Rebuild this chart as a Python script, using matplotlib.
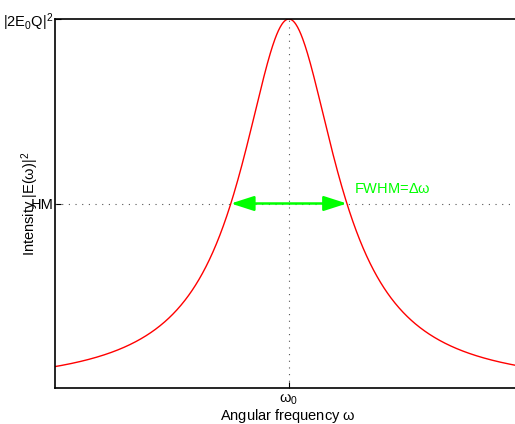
import numpy as np
import matplotlib
matplotlib.use("Agg")
import matplotlib.pyplot as plt

plt.rcParams['font.family'] = ['Liberation Sans', 'DejaVu Sans']
plt.rcParams['mathtext.fontset'] = 'custom'
plt.rcParams['mathtext.rm'] = 'Liberation Sans'
plt.rcParams['mathtext.default'] = 'regular'

# Lorentzian line shape, centred on omega_0 with unit half width
omega0 = 0.0
half_width = 1.0
omega = np.linspace(-4.1, 4.1, 821)
intensity = 1.0 / (1.0 + ((omega - omega0) / half_width) ** 2)
half_max = 0.5

y_ticks = [half_max, 1.0]
y_tick_labels = ['HM', r'|2E$_0$Q|$^2$']
x_ticks = [omega0]
x_tick_labels = [r'$\omega_0$']

fig = plt.figure(figsize=(5.15, 4.24), dpi=100)
# axes run a little past the right edge of the figure
ax = fig.add_axes([55 / 515, 36 / 424, 466 / 515, 369 / 424])

ax.plot(omega, intensity, color='red', lw=1)
ax.axvline(omega0, color='#555555', lw=0.8, ls=(0, (1, 5)))
ax.axhline(half_max, color='#555555', lw=0.8, ls=(0, (1, 5)))

ax.annotate('', xy=(omega0 + half_width, half_max), xytext=(omega0 - half_width, half_max),
            arrowprops=dict(arrowstyle='<|-|>,head_length=1.4,head_width=0.45',
                            color='#00ff00', lw=1.8, mutation_scale=10,
                            shrinkA=0, shrinkB=0))
ax.text(omega0 + half_width + 0.12, half_max + 0.02, r'FWHM=$\Delta\omega$',
        color='#00ff00', fontsize=10.5, ha='left', va='bottom')

ax.set_xlim(-4.03, 4.0)
ax.set_ylim(0, 1)
ax.set_xticks(x_ticks)
ax.set_xticklabels(x_tick_labels, fontsize=10.5)
ax.set_yticks(y_ticks)
ax.set_yticklabels(y_tick_labels, fontsize=10.5)
ax.tick_params(axis='y', direction='in', length=4, width=0.8, pad=1)
ax.tick_params(axis='x', direction='in', length=4, width=0.8, pad=3)
for s in ax.spines.values():
    s.set_linewidth(1.2)

ax.set_xlabel(r'Angular frequency $\omega$', fontsize=10.5, labelpad=0)
ax.set_ylabel(r'Intensity |E($\omega$)|$^2$', fontsize=10.5)
ax.yaxis.set_label_coords(-0.029, 0.5)

fig.savefig('out.png', dpi=100)
